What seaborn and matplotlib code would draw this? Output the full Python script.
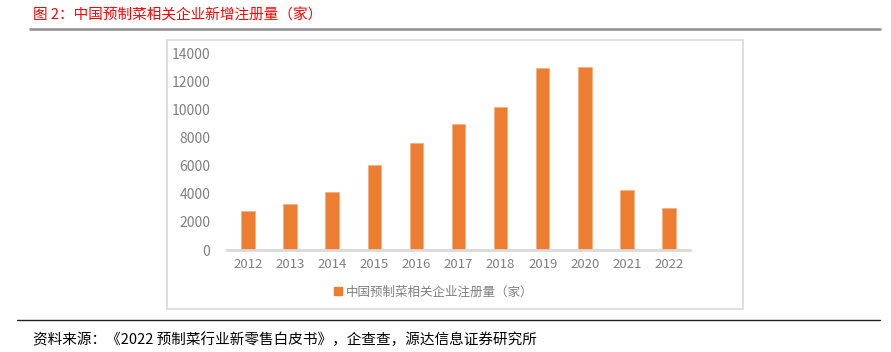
import numpy as np
import pandas as pd
import seaborn as sns
import matplotlib.pyplot as plt
from matplotlib.lines import Line2D
from matplotlib.patches import Rectangle

# data
years = ["2012", "2013", "2014", "2015", "2016", "2017", "2018", "2019", "2020", "2021", "2022"]
registrations = [2780, 3300, 4150, 6050, 7620, 8990, 10150, 12930, 13000, 4250, 2970]
yticks = [0, 2000, 4000, 6000, 8000, 10000, 12000, 14000]

title = "图 2：中国预制菜相关企业新增注册量（家）"
series_name = "中国预制菜相关企业注册量（家）"
source = "资料来源：《2022 预制菜行业新零售白皮书》，企查查，源达信息证券研究所"

sns.set_theme(style="white")
plt.rcParams["font.family"] = ["Noto Sans CJK SC", "DejaVu Sans"]

W, H = 891, 352
fig = plt.figure(figsize=(W / 100, H / 100), dpi=100)

# chart frame
fig.patches.append(Rectangle((167 / W, 1 - 309 / H), (743 - 167) / W, (309 - 40) / H,
                             transform=fig.transFigure, fill=False,
                             edgecolor="#D9D9D9", linewidth=1.2))
# rules
fig.add_artist(Line2D([30 / W, 880 / W], [1 - 29 / H, 1 - 29 / H], transform=fig.transFigure,
                      color="#999999", linewidth=2))
fig.add_artist(Line2D([17 / W, 880 / W], [1 - 320 / H, 1 - 320 / H], transform=fig.transFigure,
                      color="#222222", linewidth=1))

fig.text(33 / W, 1 - 15 / H, title, color="#FF0000", fontsize=10.5, va="center", ha="left")
fig.text(33 / W, 1 - 340 / H, source, color="#000000", fontsize=10.5, va="center", ha="left")

ax = fig.add_axes([227 / W, 1 - 250 / H, (690 - 227) / W, (250 - 53.3) / H])
df = pd.DataFrame({"year": years, "value": registrations})
sns.barplot(data=df, x="year", y="value", ax=ax, color="#ED7D31", width=0.32,
            saturation=1, edgecolor="#F4B183", linewidth=0.6)

ax.set_ylim(0, 14000)
ax.set_xlim(-0.5, len(years) - 0.5)
ax.set_yticks(yticks)
ax.set_yticklabels([str(v) for v in yticks])
ax.set_xlabel("")
ax.set_ylabel("")
ax.tick_params(axis="y", colors="#7F7F7F", labelsize=10, length=0, pad=12)
ax.tick_params(axis="x", colors="#7F7F7F", labelsize=9.5, length=0, pad=6)
for s in ["top", "right", "left"]:
    ax.spines[s].set_visible(False)
ax.spines["bottom"].set_color("#D9D9D9")
ax.spines["bottom"].set_linewidth(2)
ax.patch.set_alpha(0)

handle = Line2D([], [], marker="s", linestyle="none", color="#ED7D31", markersize=6)
fig.legend([handle], [series_name], loc="center", bbox_to_anchor=(433 / W, 1 - 292 / H),
           frameon=False, fontsize=9, labelcolor="#7F7F7F", handletextpad=0.2,
           handlelength=0.8)

fig.savefig("out.png", dpi=100)
